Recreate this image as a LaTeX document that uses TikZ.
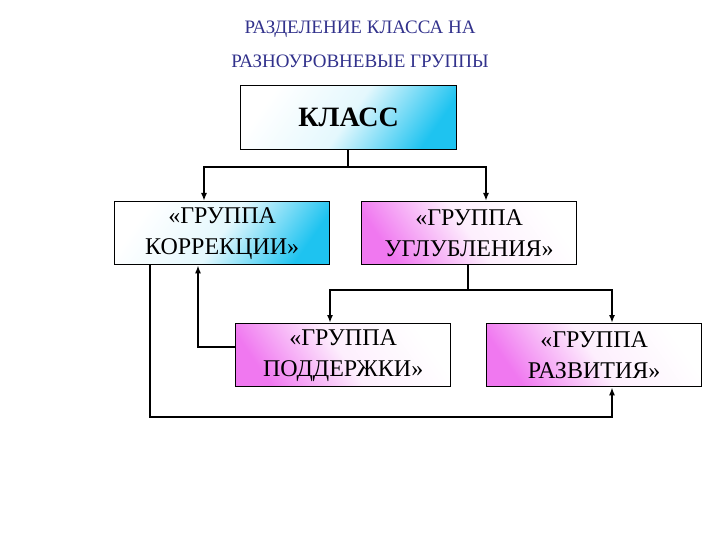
\documentclass[tikz,border=0pt]{standalone}
\usepackage{fontspec}
\setmainfont{Liberation Serif}
\usetikzlibrary{arrows.meta}
\definecolor{ttl}{RGB}{50,50,140}
\definecolor{cy}{RGB}{30,195,240}
\definecolor{mg}{RGB}{240,120,240}
\begin{document}
\begin{tikzpicture}[x=1pt,y=-1pt,
 cbox/.style={draw,line width=1.3pt,minimum width=215pt,minimum height=63pt,align=center,font=\fontsize{24}{31}\selectfont,inner sep=0pt,anchor=north west},
 cyanbox/.style={cbox,top color=white,bottom color=cy,middle color=white!88!cy,shading angle=55},
 pinkbox/.style={cbox,top color=white,bottom color=mg,middle color=white!88!mg,shading angle=-55},
 con/.style={line width=1.8pt,-{Latex[length=8pt,width=6pt]}},
 ln/.style={line width=1.8pt}]
\useasboundingbox (0,0) rectangle (720,540);
\node[text=ttl,align=center,font=\fontsize{19}{34}\selectfont] (t) at (360,44) {РАЗДЕЛЕНИЕ КЛАССА НА\\РАЗНОУРОВНЕВЫЕ ГРУППЫ};
\node[cyanbox,minimum height=64pt,minimum width=216pt,font=\fontsize{28}{34}\selectfont] (k) at (240,85) {\textbf{КЛАСС}};
\node[cyanbox] (a) at (114,201) {«ГРУППА\\КОРРЕКЦИИ»};
\node[pinkbox] (b) at (361,201) {«ГРУППА\\УГЛУБЛЕНИЯ»};
\node[pinkbox] (c) at (235,323) {«ГРУППА\\ПОДДЕРЖКИ»};
\node[pinkbox] (d) at (486,323) {«ГРУППА\\РАЗВИТИЯ»};
\coordinate (j1) at (348,167);
\draw[ln] (k.south -| j1) -- (j1);
\draw[con] (j1) -| (a.north -| 204,0);
\draw[con] (j1) -| (b.north -| 486,0);
\coordinate (j2) at (468,290);
\draw[ln] (b.south -| j2) -- (j2);
\draw[con] (j2) -| (c.north -| 330,0);
\draw[con] (j2) -| (d.north -| 612,0);
\coordinate (j3) at (198,347);
\draw[con] (c.west |- j3) -- (j3) -- (a.south -| j3);
\coordinate (j4) at (150,417);
\coordinate (j5) at (612,417);
\draw[con] (a.south -| j4) -- (j4) -- (j5) -- (d.south -| j5);
\end{tikzpicture}
\end{document}
